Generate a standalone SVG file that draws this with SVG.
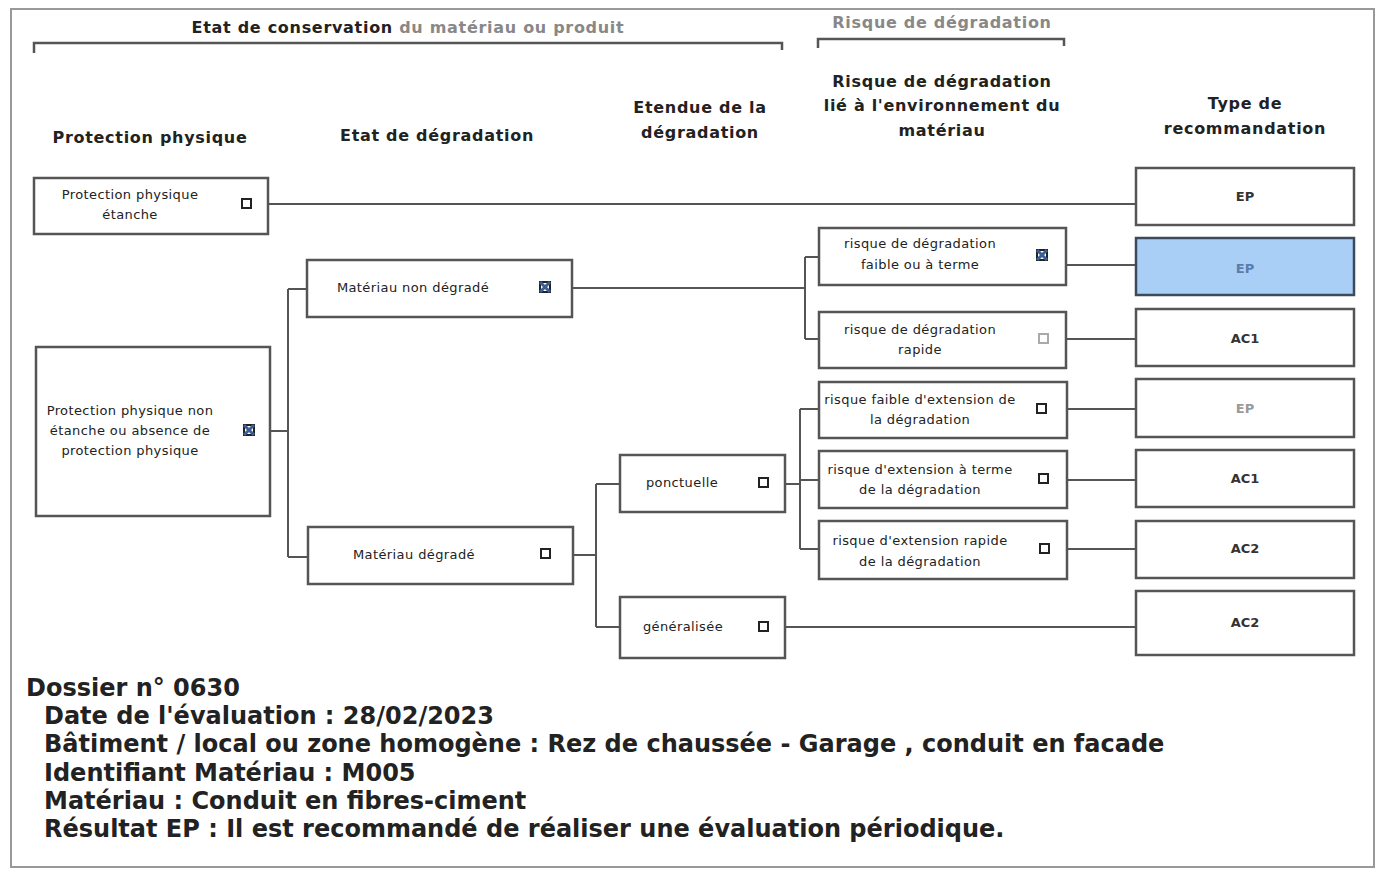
<svg xmlns="http://www.w3.org/2000/svg" width="1382" height="872" viewBox="0 0 1382 872">
<style>
.box{fill:#fff;stroke:#555;stroke-width:2.5}
.hl{fill:#a9cff7;stroke:#3d4a5c;stroke-width:2.5}
.t{font-family:"DejaVu Sans",Verdana,sans-serif;font-size:13px;letter-spacing:0.4px;fill:#222;text-anchor:middle}
.h{font-family:"DejaVu Sans",Verdana,sans-serif;font-size:16px;font-weight:bold;letter-spacing:0.7px;fill:#222;text-anchor:middle}
.hg{fill:#888}
.r{font-family:"DejaVu Sans",Verdana,sans-serif;font-size:13px;font-weight:bold;fill:#333;text-anchor:middle}
.cb{fill:#fff;stroke:#222;stroke-width:2}
.cbg{fill:#fff;stroke:#aaa;stroke-width:2}
.x{stroke:#3a5f95;stroke-width:3}
.c{fill:none;stroke:#555;stroke-width:2}
.br{fill:none;stroke:#555;stroke-width:2.5}
.b{font-family:"DejaVu Sans",Verdana,sans-serif;font-size:24px;font-weight:bold;fill:#222}
</style>
<rect x="0" y="0" width="1382" height="872" fill="#fff"/>
<rect x="11" y="9" width="1363" height="858" fill="none" stroke="#999" stroke-width="2"/>

<g id="headers">
<text class="h" x="408" y="33"><tspan>Etat de conservation </tspan><tspan class="hg">du matériau ou produit</tspan></text>
<path class="br" d="M34 53 V43 H782 V50"/>
<text class="h hg" x="942" y="28">Risque de dégradation</text>
<path class="br" d="M818 48 V39 H1064 V46"/>
<text class="h" x="150" y="143">Protection physique</text>
<text class="h" x="437" y="141">Etat de dégradation</text>
<text class="h" x="700" y="113">Etendue de la</text>
<text class="h" x="700" y="138">dégradation</text>
<text class="h" x="942" y="87">Risque de dégradation</text>
<text class="h" x="942" y="111">lié à l'environnement du</text>
<text class="h" x="942" y="136">matériau</text>
<text class="h" x="1245" y="109">Type de</text>
<text class="h" x="1245" y="134">recommandation</text>
</g>

<g id="connectors">
<path class="c" d="M268 204 H1136"/>
<path class="c" d="M270 431 H288 M288 289 V557 M288 289 H307 M288 557 H308"/>
<path class="c" d="M572 288 H805 M805 257 V339 M805 257 H819 M805 339 H819"/>
<path class="c" d="M1066 265 H1136 M1066 339 H1136"/>
<path class="c" d="M573 555 H596 M596 484 V627 M596 484 H620 M596 627 H620"/>
<path class="c" d="M785 484 H800 M800 409 V549 M800 409 H819 M800 480 H819 M800 549 H819"/>
<path class="c" d="M1067 409 H1136 M1067 480 H1136 M1067 549 H1136"/>
<path class="c" d="M785 627 H1136"/>
</g>

<g id="n-etanche">
<rect class="box" x="34" y="178" width="234" height="56"/>
<text class="t" x="130" y="199">Protection physique</text>
<text class="t" x="130" y="219">étanche</text>
<rect class="cb" x="242" y="199" width="9" height="9"/>
</g>

<g id="n-non-etanche">
<rect class="box" x="36" y="347" width="234" height="169"/>
<text class="t" x="130" y="415">Protection physique non</text>
<text class="t" x="130" y="435">étanche ou absence de</text>
<text class="t" x="130" y="455">protection physique</text>
<rect class="cb" x="244" y="425" width="10" height="10" stroke="#3a5f95"/>
<path class="x" d="M244 425 L254 435 M254 425 L244 435"/>
</g>

<g id="n-non-degrade">
<rect class="box" x="307" y="260" width="265" height="57"/>
<text class="t" x="413" y="292">Matériau non dégradé</text>
<rect class="cb" x="540" y="282" width="10" height="10" stroke="#3a5f95"/>
<path class="x" d="M540 282 L550 292 M550 282 L540 292"/>
</g>

<g id="n-degrade">
<rect class="box" x="308" y="527" width="265" height="57"/>
<text class="t" x="414" y="559">Matériau dégradé</text>
<rect class="cb" x="541" y="549" width="9" height="9"/>
</g>

<g id="n-ponctuelle">
<rect class="box" x="620" y="455" width="165" height="57"/>
<text class="t" x="682" y="487">ponctuelle</text>
<rect class="cb" x="759" y="478" width="9" height="9"/>
</g>

<g id="n-generalisee">
<rect class="box" x="620" y="597" width="165" height="61"/>
<text class="t" x="683" y="631">généralisée</text>
<rect class="cb" x="759" y="622" width="9" height="9"/>
</g>

<g id="n-faible">
<rect class="box" x="819" y="228" width="247" height="57"/>
<text class="t" x="920" y="248">risque de dégradation</text>
<text class="t" x="920" y="269">faible ou à terme</text>
<rect class="cb" x="1037" y="250" width="10" height="10" stroke="#3a5f95"/>
<path class="x" d="M1037 250 L1047 260 M1047 250 L1037 260"/>
</g>

<g id="n-rapide">
<rect class="box" x="819" y="312" width="247" height="56"/>
<text class="t" x="920" y="334">risque de dégradation</text>
<text class="t" x="920" y="354">rapide</text>
<rect class="cbg" x="1039" y="334" width="9" height="9"/>
</g>

<g id="n-ext-faible">
<rect class="box" x="819" y="382" width="248" height="56"/>
<text class="t" x="920" y="404">risque faible d'extension de</text>
<text class="t" x="920" y="424">la dégradation</text>
<rect class="cb" x="1037" y="404" width="9" height="9"/>
</g>

<g id="n-ext-terme">
<rect class="box" x="819" y="451" width="248" height="57"/>
<text class="t" x="920" y="474">risque d'extension à terme</text>
<text class="t" x="920" y="494">de la dégradation</text>
<rect class="cb" x="1039" y="474" width="9" height="9"/>
</g>

<g id="n-ext-rapide">
<rect class="box" x="819" y="521" width="248" height="58"/>
<text class="t" x="920" y="545">risque d'extension rapide</text>
<text class="t" x="920" y="566">de la dégradation</text>
<rect class="cb" x="1040" y="544" width="9" height="9"/>
</g>

<g id="r-ep1">
<rect class="box" x="1136" y="168" width="218" height="57"/>
<text class="r" x="1245" y="201">EP</text>
</g>
<g id="r-ep2">
<rect class="hl" x="1136" y="238" width="218" height="57"/>
<text class="r" x="1245" y="273" style="fill:#5b7cab">EP</text>
</g>
<g id="r-ac1a">
<rect class="box" x="1136" y="309" width="218" height="57"/>
<text class="r" x="1245" y="343">AC1</text>
</g>
<g id="r-ep3">
<rect class="box" x="1136" y="379" width="218" height="58"/>
<text class="r" x="1245" y="413" style="fill:#999">EP</text>
</g>
<g id="r-ac1b">
<rect class="box" x="1136" y="450" width="218" height="57"/>
<text class="r" x="1245" y="483">AC1</text>
</g>
<g id="r-ac2a">
<rect class="box" x="1136" y="521" width="218" height="57"/>
<text class="r" x="1245" y="553">AC2</text>
</g>
<g id="r-ac2b">
<rect class="box" x="1136" y="591" width="218" height="64"/>
<text class="r" x="1245" y="627">AC2</text>
</g>

<g id="info">
<text class="b" x="26" y="696">Dossier n° 0630</text>
<text class="b" x="44" y="724">Date de l'évaluation : 28/02/2023</text>
<text class="b" x="44" y="752">Bâtiment / local ou zone homogène : Rez de chaussée - Garage , conduit en facade</text>
<text class="b" x="44" y="781">Identifiant Matériau : M005</text>
<text class="b" x="44" y="809">Matériau : Conduit en fibres-ciment</text>
<text class="b" x="44" y="837">Résultat EP : Il est recommandé de réaliser une évaluation périodique.</text>
</g>
</svg>
